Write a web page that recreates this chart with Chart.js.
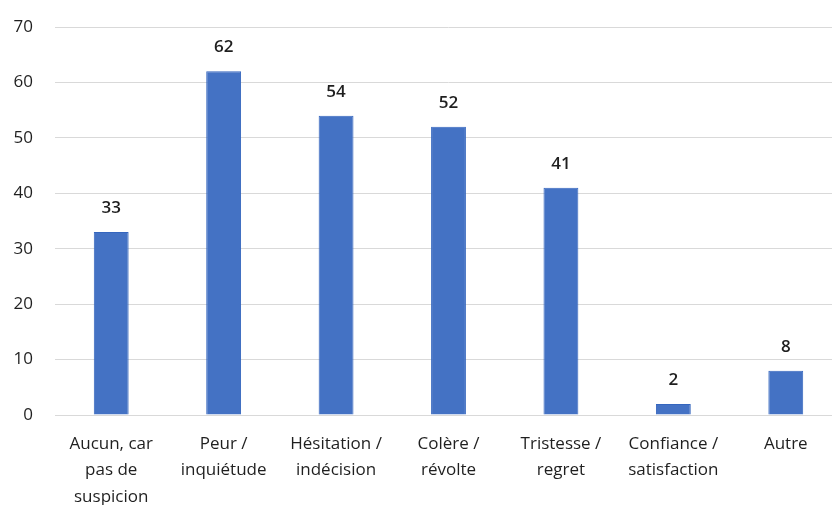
<!DOCTYPE html>
<html><head><meta charset="utf-8">
<script src="https://cdn.jsdelivr.net/npm/chart.js@4"></script>
<style>
html,body{margin:0;padding:0;background:#fff;overflow:hidden;}
#wrap{width:845px;height:505px;position:relative;}
</style></head>
<body><div id="wrap"><canvas id="c"></canvas></div>
<script>
const categories = [
  ["Aucun, car","pas de","suspicion"],
  ["Peur /","inquiétude"],
  ["Hésitation /","indécision"],
  ["Colère /","révolte"],
  ["Tristesse /","regret"],
  ["Confiance /","satisfaction"],
  ["Autre"]
];
const values = [33, 62, 54, 52, 41, 2, 8];
const yTicks = [0, 10, 20, 30, 40, 50, 60, 70];

const FONT = "'Open Sans', Lato, sans-serif";

const valueLabels = {
  id: 'valueLabels',
  afterDatasetsDraw(chart) {
    const ctx = chart.ctx;
    const meta = chart.getDatasetMeta(0);
    ctx.save();
    ctx.font = "600 17px " + FONT;
    ctx.fillStyle = '#1f1f1f';
    ctx.textAlign = 'center';
    ctx.textBaseline = 'middle';
    meta.data.forEach((bar, i) => {
      ctx.fillText(String(values[i]), bar.x, bar.y - 24);
    });
    ctx.restore();
  }
};

new Chart(document.getElementById('c'), {
  type: 'bar',
  data: {
    labels: categories,
    datasets: [{
      data: values,
      backgroundColor: '#4472C4',
      borderColor: '#3566BE',
      borderWidth: 1,
      categoryPercentage: 1,
      barPercentage: 0.31
    }]
  },
  options: {
    responsive: true,
    maintainAspectRatio: false,
    animation: false,
    layout: { padding: { top: 27, right: 3, left: 0, bottom: 0 } },
    plugins: { legend: { display: false }, tooltip: { enabled: false } },
    scales: {
      x: {
        grid: { display: false, drawTicks: false },
        border: { display: true, color: '#d9d9d9', width: 1 },
        ticks: {
          color: '#1f1f1f',
          font: { family: FONT, size: 17, lineHeight: 1.55 },
          padding: 16,
          maxRotation: 0,
          autoSkip: false
        },
        afterFit(scale) { scale.height = 90; }
      },
      y: {
        min: 0, max: 70,
        afterBuildTicks(scale) { scale.ticks = yTicks.map(v => ({ value: v })); },
        grid: { color: '#d9d9d9', lineWidth: 1, drawTicks: false },
        border: { display: false },
        ticks: {
          color: '#1f1f1f',
          font: { family: FONT, size: 17 },
          padding: 22
        },
        afterFit(scale) { scale.width = 55; scale.paddingTop = 0; scale.paddingBottom = 0; }
      }
    }
  },
  plugins: [valueLabels]
});
</script></body></html>
